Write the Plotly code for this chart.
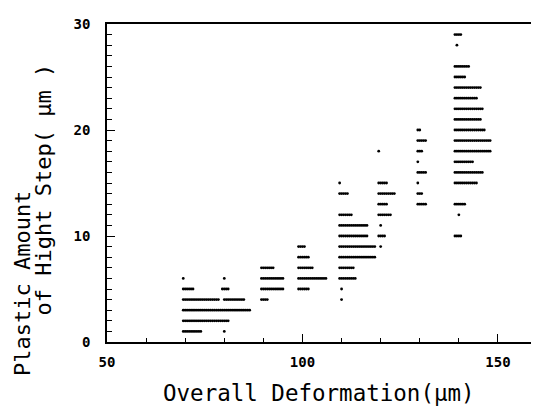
import plotly.graph_objects as go

# Each cluster: row heights (µm) and the x positions of the dots in each row
a_y = [6, 5, 4, 3, 2, 1]
a_x = [
    [69.5, 80.0],
    [69.5, 70.0, 70.5, 71.0, 71.5, 72.0, 79.5, 80.0, 80.5, 81.0],
    [69.5, 70.0, 70.5, 71.0, 71.5, 72.0, 72.5, 73.0, 73.5, 74.0, 74.5, 75.0, 75.5, 76.0, 76.5,
     77.0, 77.5, 78.0, 78.5, 80.0, 80.5, 81.0, 81.5, 82.0, 82.5, 83.0, 83.5, 84.0, 84.5, 85.0],
    [69.5, 70.0, 70.5, 71.0, 71.5, 72.0, 72.5, 73.0, 73.5, 74.0, 74.5, 75.0, 75.5, 76.0, 76.5,
     77.0, 77.5, 78.0, 78.5, 79.0, 79.5, 80.0, 80.5, 81.0, 81.5, 82.0, 82.5, 83.0, 83.5, 84.0,
     84.5, 85.0, 85.5, 86.0, 86.5],
    [69.5, 70.0, 70.5, 71.0, 71.5, 72.0, 72.5, 73.0, 73.5, 74.0, 74.5, 75.0, 75.5, 76.0, 76.5,
     77.0, 77.5, 78.0, 78.5, 79.0, 79.5, 80.0, 80.5, 81.0],
    [69.5, 70.0, 70.5, 71.0, 71.5, 72.0, 72.5, 73.0, 73.5, 74.0, 80.0],
]

b_y = [7, 6, 5, 4]
b_x = [
    [89.5, 90.0, 90.5, 91.0, 91.5, 92.0, 92.5],
    [89.5, 90.0, 90.5, 91.0, 91.5, 92.0, 92.5, 93.0, 93.5, 94.0, 94.5, 95.0],
    [89.5, 90.0, 90.5, 91.0, 91.5, 92.0, 92.5, 93.0, 93.5, 94.0, 94.5, 95.0],
    [89.5, 90.0, 90.5, 91.0],
]

c_y = [9, 8, 7, 6, 5]
c_x = [
    [99.0, 99.5, 100.0, 100.5],
    [99.0, 99.5, 100.0, 100.5, 101.0, 101.5],
    [99.0, 99.5, 100.0, 100.5, 101.0, 101.5, 102.0, 102.5],
    [99.0, 99.5, 100.0, 100.5, 101.0, 101.5, 102.0, 102.5, 103.0, 103.5, 104.0, 104.5, 105.0,
     105.5, 106.0],
    [99.0, 99.5, 100.0, 100.5, 101.0, 101.5],
]

d_y = [15, 14, 12, 11, 10, 9, 8, 7, 6, 5, 4]
d_x = [
    [109.5],
    [109.5, 110.0, 110.5, 111.0, 111.5],
    [109.5, 110.0, 110.5, 111.0, 111.5, 112.0, 112.5],
    [109.5, 110.0, 110.5, 111.0, 111.5, 112.0, 112.5, 113.0, 113.5, 114.0, 114.5, 115.0, 115.5,
     116.0, 116.5],
    [109.5, 110.0, 110.5, 111.0, 111.5, 112.0, 112.5, 113.0, 113.5, 114.0, 114.5, 115.0, 115.5,
     116.0, 116.5],
    [109.5, 110.0, 110.5, 111.0, 111.5, 112.0, 112.5, 113.0, 113.5, 114.0, 114.5, 115.0, 115.5,
     116.0, 116.5, 117.0, 117.5, 118.0, 118.5],
    [109.5, 110.0, 110.5, 111.0, 111.5, 112.0, 112.5, 113.0, 113.5, 114.0, 114.5, 115.0, 115.5,
     116.0, 116.5, 117.0, 117.5, 118.0, 118.5],
    [109.5, 110.0, 110.5, 111.0, 111.5, 112.0, 112.5, 113.0],
    [109.5, 110.0, 110.5, 111.0, 111.5, 112.0, 112.5, 113.0, 113.5],
    [110.0],
    [110.0],
]

e_y = [18, 15, 14, 13, 12, 11, 10, 9]
e_x = [
    [119.5],
    [119.5, 120.0, 120.5, 121.0, 121.5],
    [119.5, 120.0, 120.5, 121.0, 121.5, 122.0, 122.5, 123.0, 123.5],
    [119.5, 120.0, 120.5, 121.0, 121.5],
    [119.5, 120.0, 120.5, 121.0, 121.5, 122.0, 122.5],
    [120.0],
    [119.5, 120.0, 120.5, 121.0],
    [120.0],
]

f_y = [20, 19, 18, 17, 16, 15, 14, 13]
f_x = [
    [129.5, 130.0],
    [129.5, 130.0, 130.5, 131.0, 131.5],
    [129.5, 130.0, 130.5],
    [129.5],
    [129.5, 130.0, 130.5, 131.0, 131.5],
    [129.5],
    [129.5, 130.0, 130.5],
    [129.5, 130.0, 130.5, 131.0, 131.5],
]

g_y = [29, 28, 26, 25, 24, 23, 22, 21, 20, 19, 18, 17, 16, 15, 13, 12, 10]
g_x = [
    [139.0, 139.5, 140.0, 140.5],
    [139.5],
    [139.0, 139.5, 140.0, 140.5, 141.0, 141.5, 142.0, 142.5],
    [139.0, 139.5, 140.0, 140.5, 141.0, 141.5],
    [139.0, 139.5, 140.0, 140.5, 141.0, 141.5, 142.0, 142.5, 143.0, 143.5, 144.0, 144.5, 145.0,
     145.5],
    [139.0, 139.5, 140.0, 140.5, 141.0, 141.5, 142.0, 142.5, 143.0, 143.5, 144.0, 144.5],
    [139.0, 139.5, 140.0, 140.5, 141.0, 141.5, 142.0, 142.5, 143.0, 143.5, 144.0, 144.5, 145.0,
     145.5, 146.0],
    [139.0, 139.5, 140.0, 140.5, 141.0, 141.5, 142.0, 142.5, 143.0, 143.5, 144.0, 144.5, 145.0,
     145.5],
    [139.0, 139.5, 140.0, 140.5, 141.0, 141.5, 142.0, 142.5, 143.0, 143.5, 144.0, 144.5, 145.0,
     145.5, 146.0, 146.5],
    [139.0, 139.5, 140.0, 140.5, 141.0, 141.5, 142.0, 142.5, 143.0, 143.5, 144.0, 144.5, 145.0,
     145.5, 146.0, 146.5, 147.0, 147.5, 148.0],
    [139.0, 139.5, 140.0, 140.5, 141.0, 141.5, 142.0, 142.5, 143.0, 143.5, 144.0, 144.5, 145.0,
     145.5, 146.0, 146.5, 147.0, 147.5, 148.0],
    [139.0, 139.5, 140.0, 140.5, 141.0, 141.5, 142.0, 142.5, 143.0, 143.5],
    [139.0, 139.5, 140.0, 140.5, 141.0, 141.5, 142.0, 142.5, 143.0, 143.5, 144.0, 144.5, 145.0,
     145.5, 146.0],
    [139.0, 139.5, 140.0, 140.5, 141.0, 141.5, 142.0, 142.5, 143.0, 143.5, 144.0, 144.5],
    [139.0, 139.5, 140.0, 140.5, 141.0, 141.5],
    [140.0],
    [139.0, 139.5, 140.0, 140.5],
]

x_title = "Overall Deformation(μm)"
y_title_1 = "Plastic Amount"
y_title_2 = "of Hight Step( μm )"

xs, ys = [], []
for rows_y, rows_x in [(a_y, a_x), (b_y, b_x), (c_y, c_x), (d_y, d_x),
                       (e_y, e_x), (f_y, f_x), (g_y, g_x)]:
    for yv, row in zip(rows_y, rows_x):
        for xv in row:
            xs.append(xv)
            ys.append(yv)

MONO = "DejaVu Sans Mono"

fig = go.Figure()
fig.add_trace(go.Scatter(
    x=xs, y=ys, mode="markers",
    marker=dict(color="black", size=2.8, line=dict(width=0)),
    showlegend=False, hoverinfo="skip",
))

fig.update_layout(
    width=539, height=406,
    margin=dict(l=99, r=8, t=10, b=72),
    paper_bgcolor="white", plot_bgcolor="white",
    font=dict(family=MONO, color="black"),
    xaxis=dict(
        range=[50, 160.5], showgrid=False, zeroline=False,
        showline=True, linecolor="black", linewidth=1.5, mirror=True,
        tickmode="linear", tick0=50, dtick=50,
        ticks="inside", ticklen=8, tickwidth=1, tickcolor="black",
        minor=dict(dtick=10, tick0=50, ticks="inside", ticklen=4, tickwidth=1, tickcolor="black"),
        tickfont=dict(family=MONO, size=14, color="black", weight="bold"),
        ticklabelstandoff=6,
    ),
    yaxis=dict(
        range=[0, 30], showgrid=False, zeroline=False,
        showline=True, linecolor="black", linewidth=1.5, mirror=False,
        tickmode="linear", tick0=0, dtick=10,
        ticks="inside", ticklen=8, tickwidth=1, tickcolor="black",
        minor=dict(dtick=1, tick0=0, ticks="inside", ticklen=5, tickwidth=1, tickcolor="black"),
        tickfont=dict(family=MONO, size=14, color="black", weight="bold"),
        ticklabelstandoff=12,
    ),
    annotations=[
        dict(text=x_title, xref="paper", yref="paper", x=0.49, y=-0.16,
             xanchor="center", yanchor="middle", showarrow=False,
             font=dict(family=MONO, size=22.5, color="black")),
        dict(text=y_title_1, xref="paper", yref="paper", x=-0.197, y=0.185,
             xanchor="center", yanchor="middle", showarrow=False, textangle=-90,
             font=dict(family=MONO, size=22, color="black")),
        dict(text=y_title_2, xref="paper", yref="paper", x=-0.148, y=0.48,
             xanchor="center", yanchor="middle", showarrow=False, textangle=-90,
             font=dict(family=MONO, size=22, color="black")),
    ],
)

fig.write_html("out.html")
